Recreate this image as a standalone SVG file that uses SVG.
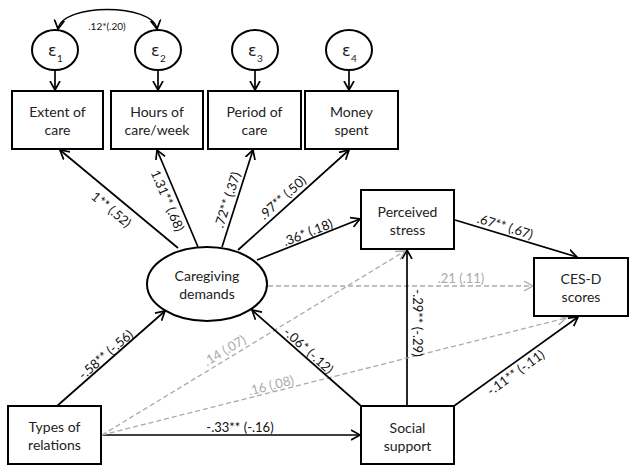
<svg xmlns="http://www.w3.org/2000/svg" width="635" height="474" viewBox="0 0 635 474">
<style>
.box{fill:#fff;stroke:#000;stroke-width:2}
.ell{fill:#fff;stroke:#000;stroke-width:2}
.nt{font-family:Lato,"Open Sans","Liberation Sans",sans-serif;font-size:14px;fill:#222;text-anchor:middle}
.lb{font-family:Lato,"Open Sans","Liberation Sans",sans-serif;font-size:13px;fill:#111;text-anchor:middle}
.lg{font-family:Lato,"Open Sans","Liberation Sans",sans-serif;font-size:13px;fill:#aaa;text-anchor:middle}
.eps{font-family:"DejaVu Sans","Liberation Sans",sans-serif;font-size:16px;fill:#222}
.sub{font-family:Lato,"Liberation Sans",sans-serif;font-size:10px;fill:#222}
.c{stroke:#000;stroke-width:1.7;fill:none;marker-end:url(#a)}
.d{stroke:#aaa;stroke-width:1.3;stroke-dasharray:5 3;fill:none;marker-end:url(#ag)}
</style>
<defs>
<marker id="a" markerUnits="userSpaceOnUse" markerWidth="12" markerHeight="12" refX="9" refY="5" orient="auto-start-reverse" viewBox="0 0 12 10">
<path d="M0,0 L9,5 L0,10" fill="none" stroke="#000" stroke-width="1.7"/>
</marker>
<marker id="ag" markerUnits="userSpaceOnUse" markerWidth="12" markerHeight="12" refX="9" refY="5" orient="auto" viewBox="0 0 12 10">
<path d="M0,0 L9,5 L0,10" fill="none" stroke="#aaa" stroke-width="1.3"/>
</marker>
</defs>
<rect width="635" height="474" fill="#fff"/>

<g id="connectors">
<path d="M58,29 C62,3 153,3 157,29" fill="none" stroke="#000" stroke-width="1.3" marker-start="url(#a)" marker-end="url(#a)"/>
<path class="c" d="M55,70 L55,90"/>
<path class="c" d="M158,70 L158,90"/>
<path class="c" d="M255,70 L255,90"/>
<path class="c" d="M349,70 L349,90"/>
<path class="c" d="M178,248 L60,150"/>
<path class="c" d="M198,247 L157,150"/>
<path class="c" d="M222,247 L253,150"/>
<path class="c" d="M238,250 L349,150"/>
<path class="c" d="M257,260 L360,219"/>
<path class="c" d="M455,220 L577,257"/>
<path class="d" d="M268,286 L533,286"/>
<path class="c" d="M407,406 L407,250"/>
<path class="c" d="M57,406 L165,311"/>
<path class="c" d="M101,435 L360,435"/>
<path class="d" d="M102,435 L405,251"/>
<path class="d" d="M102,435 L566,318"/>
<path class="c" d="M361,406 L252,310"/>
<path class="c" d="M454,406 L578,317"/>
</g>

<g id="labels">
<text class="lb" style="font-size:10px" x="107" y="30">.12*(.20)</text>
<text class="lb" transform="translate(111,210) rotate(39.7)" y="4">1** (.52)</text>
<text class="lb" transform="translate(167,201) rotate(67)" y="4">1.31** (.68)</text>
<text class="lb" transform="translate(228,200) rotate(-72.3)" y="4">.72** (.37)</text>
<text class="lb" transform="translate(283,198) rotate(-41.8)" y="4">.97** (.50)</text>
<text class="lb" transform="translate(308,233) rotate(-21.7)" y="4">.36* (.18)</text>
<text class="lb" transform="translate(505,227) rotate(17)" y="4">.67** (.67)</text>
<text class="lg" x="461" y="283">.21 (.11)</text>
<text class="lb" transform="translate(417,323) rotate(90)" y="4">-.29**  (-.29)</text>
<text class="lb" transform="translate(106,355) rotate(-41)" y="4">-.58** (-.56)</text>
<text class="lg" transform="translate(225,351) rotate(-31)" y="4">.14 (.07)</text>
<text class="lg" transform="translate(271,386) rotate(-14.2)" y="4">.16 (.08)</text>
<text class="lb" x="240" y="432">-.33** (-.16)</text>
<text class="lb" transform="translate(308,351) rotate(42)" y="4">-.06* (-.12)</text>
<text class="lb" transform="translate(516,373) rotate(-35.7)" y="4">-.11** (-.11)</text>
</g>

<g id="e1"><ellipse class="ell" cx="55" cy="50" rx="23" ry="20"/><text class="eps" x="48" y="56">ε</text><text class="sub" x="57" y="62">1</text></g>
<g id="e2"><ellipse class="ell" cx="158" cy="50" rx="23" ry="20"/><text class="eps" x="151" y="56">ε</text><text class="sub" x="160" y="62">2</text></g>
<g id="e3"><ellipse class="ell" cx="255" cy="50" rx="23" ry="20"/><text class="eps" x="248" y="56">ε</text><text class="sub" x="257" y="62">3</text></g>
<g id="e4"><ellipse class="ell" cx="349" cy="50" rx="23" ry="20"/><text class="eps" x="342" y="56">ε</text><text class="sub" x="351" y="62">4</text></g>

<g id="extent"><rect class="box" x="12" y="91" width="91" height="58"/><text class="nt" x="57.5" y="117">Extent of</text><text class="nt" x="57.5" y="135">care</text></g>
<g id="hours"><rect class="box" x="111" y="91" width="92" height="58"/><text class="nt" x="157" y="117">Hours of</text><text class="nt" x="157" y="135">care/week</text></g>
<g id="period"><rect class="box" x="208" y="91" width="93" height="58"/><text class="nt" x="254.5" y="117">Period of</text><text class="nt" x="254.5" y="135">care</text></g>
<g id="money"><rect class="box" x="305" y="91" width="93" height="58"/><text class="nt" x="351.5" y="117">Money</text><text class="nt" x="351.5" y="135">spent</text></g>

<g id="caregiving"><ellipse class="ell" cx="207" cy="284" rx="60" ry="37"/><text class="nt" x="207" y="281">Caregiving</text><text class="nt" x="207" y="299">demands</text></g>
<g id="stress"><rect class="box" x="361" y="190" width="93" height="59"/><text class="nt" x="407.5" y="217">Perceived</text><text class="nt" x="407.5" y="235">stress</text></g>
<g id="cesd"><rect class="box" x="534" y="258" width="94" height="58"/><text class="nt" x="581" y="284">CES-D</text><text class="nt" x="581" y="302">scores</text></g>
<g id="types"><rect class="box" x="8" y="406" width="93" height="58"/><text class="nt" x="54.5" y="432">Types of</text><text class="nt" x="54.5" y="450">relations</text></g>
<g id="social"><rect class="box" x="361" y="406" width="93" height="58"/><text class="nt" x="407.5" y="433">Social</text><text class="nt" x="407.5" y="451">support</text></g>
</svg>
